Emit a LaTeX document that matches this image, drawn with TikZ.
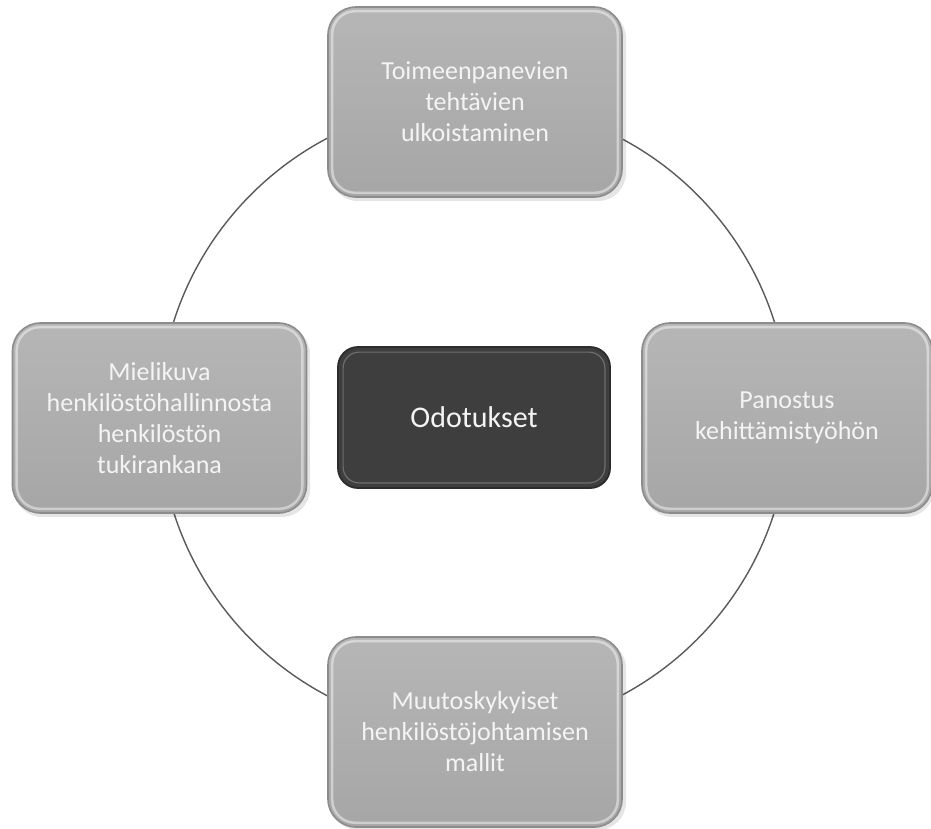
\documentclass[tikz,border=0pt]{standalone}
\usepackage{fontspec}
\setmainfont{Carlito}
\definecolor{ringline}{HTML}{5A5A5A}
\definecolor{boxtop}{HTML}{B6B6B6}
\definecolor{boxbottom}{HTML}{A6A6A6}
\definecolor{boxedge}{HTML}{8C8C8C}
\definecolor{hubfill}{HTML}{3E3E3E}
\definecolor{hubedge}{HTML}{2C2C2C}
\definecolor{hubinner}{HTML}{6E6E6E}
\definecolor{labeltext}{HTML}{F4F4F4}
\tikzset{
  ring/.style={draw=ringline, line width=1.4pt},
  cyclebox/.style={rectangle, rounded corners=28pt, draw=boxedge, line width=1.6pt,
    top color=boxtop, bottom color=boxbottom,
    minimum width=294pt, minimum height=190pt, inner sep=0pt,
    align=center, text=labeltext,
    font=\fontsize{26pt}{31pt}\selectfont},
  hubbox/.style={rectangle, rounded corners=20pt, draw=hubedge, line width=1.8pt,
    fill=hubfill, minimum width=272pt, minimum height=141pt, inner sep=0pt,
    align=center, text=labeltext, font=\fontsize{30pt}{36pt}\selectfont},
  bevel/.style={draw=white, draw opacity=0.45, line width=2.5pt, rounded corners=23pt},
  hubbevel/.style={draw=hubinner, line width=1.2pt, rounded corners=16pt},
  castshadow/.style={fill=black, fill opacity=0.10, rounded corners=28pt}
}
\begin{document}
\begin{tikzpicture}[x=1pt,y=-1pt]
\useasboundingbox (0,0) rectangle (931,828);
\fill[white] (0,0) rectangle (931,828);

% the ring joining the four outer boxes
\coordinate (hub) at (474,417);
\draw[ring] (hub) circle[radius=315];

% soft shadows under the boxes
\fill[castshadow] (330,10) rectangle (626,201);
\fill[castshadow] (644,326) rectangle (934,517);
\fill[castshadow] (14,326) rectangle (310,517);
\fill[castshadow] (330,640) rectangle (626,830);

% outer boxes
\node[cyclebox] (top) at (475,102) {Toimeenpanevien\\tehtävien\\ulkoistaminen};
\node[cyclebox, minimum width=290pt] (right) at (787,418) {Panostus\\kehittämistyöhön};
\node[cyclebox] (bottom) at (475,732) {Muutoskykyiset\\henkilöstöjohtamisen\\mallit};
\node[cyclebox] (left) at (159.5,418) {Mielikuva\\henkilöstöhallinnosta\\henkilöstön\\tukirankana};

% central box
\node[hubbox] (center) at (474,417.5) {Odotukset};

% inner highlight rims
\foreach \n in {top,right,bottom,left}{
  \draw[bevel] ([xshift=5pt,yshift=-5pt]\n.north west) rectangle ([xshift=-5pt,yshift=5pt]\n.south east);
}
\draw[hubbevel] ([xshift=6pt,yshift=-6pt]center.north west) rectangle ([xshift=-6pt,yshift=6pt]center.south east);
\end{tikzpicture}
\end{document}
